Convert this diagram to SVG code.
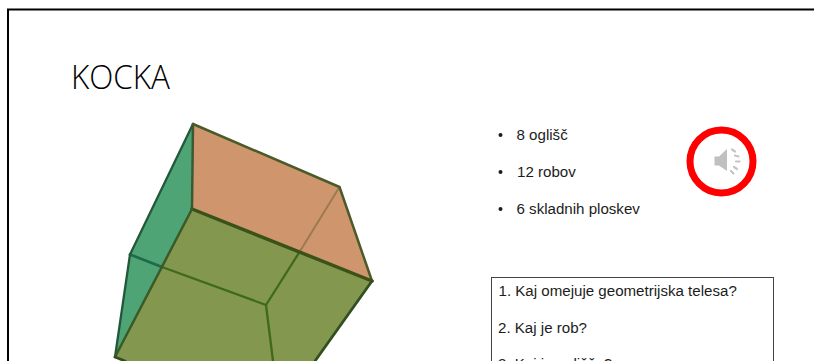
<svg xmlns="http://www.w3.org/2000/svg" width="814" height="361" viewBox="0 0 814 361">
<style>
.t{font-family:"Liberation Sans",Arial,sans-serif;font-size:15.1px;fill:#1c1c1c}
.e{fill:none;stroke-linecap:round;stroke-linejoin:round}
.w{fill:none;stroke:#c4c4c4;stroke-width:2.200;stroke-linecap:round}
</style>
<rect width="814" height="361" fill="#fff"/>
<path d="M8 361V9.500H814" fill="none" stroke="#000" stroke-width="2"/>
<text id="title" x="71" y="89" style="font-family:'Open Sans',sans-serif;font-size:33px;font-weight:300;fill:#000" textLength="99" lengthAdjust="spacingAndGlyphs">KOCKA</text>
<g id="cube">
<polygon points="193,124 192,209 115,357 130,254" fill="#4fa476"/>
<polygon points="193,124 339.500,187 372,281 192,209" fill="#cf966d"/>
<polygon points="192,209 372,281 315,361 125,361 115,357" fill="#84974f"/>
<g class="e">
<path d="M339.500 187L299.500 252" stroke="#9c7a50" stroke-width="2"/>
<path d="M299.500 252L266 305L162 267" stroke="#3f6a1c" stroke-width="2.300"/>
<path d="M266 305L273 361" stroke="#3f6a1c" stroke-width="2.300"/>
<path d="M130 254.500L162 267" stroke="#1f6a4a" stroke-width="2.800"/>
<path d="M193 124L130 254.500L115 357" stroke="#24583a" stroke-width="2.300"/>
<path d="M193 124L192 209" stroke="#3b5a32" stroke-width="2.500"/>
<path d="M193 124L339.500 187L372 281" stroke="#4a5a28" stroke-width="2.500"/>
<path d="M192 209L372 281" stroke="#3a5218" stroke-width="3.500"/>
<path d="M192 209L115 357" stroke="#3a5a28" stroke-width="2.500"/>
<path d="M372 281L315 361M115 357L125 361" stroke="#324f20" stroke-width="2.800"/>
</g>
</g>
<g id="bullets">
<circle cx="500.500" cy="135" r="2" fill="#1c1c1c"/>
<circle cx="500.500" cy="172" r="2" fill="#1c1c1c"/>
<circle cx="500.500" cy="209" r="2" fill="#1c1c1c"/>
<text class="t" x="516.500" y="140">8 oglišč</text>
<text class="t" x="517" y="177">12 robov</text>
<text class="t" x="516.500" y="213.500">6 skladnih ploskev</text>
</g>
<g id="speaker">
<circle cx="721.500" cy="161.500" r="31.500" fill="none" stroke="#f00" stroke-width="7"/>
<path d="M714.500 156.500H719L727 149V171L719 165.500H714.500Z" fill="#c0c0c0"/>
<path class="w" d="M732 149.500L735 151.500M735 155.500L738.500 156.500M736 161.500H739.500M734 167L737 169M731 171L733.500 173.500"/>
</g>
<g id="questions">
<rect x="491.500" y="277.500" width="282" height="100" fill="#fff" stroke="#444" stroke-width="1"/>
<text class="t" x="498.500" y="296">1. Kaj omejuje geometrijska telesa?</text>
<text class="t" x="498" y="332.500">2. Kaj je rob?</text>
<text class="t" x="498" y="369">3. Kaj je oglišče?</text>
</g>
</svg>
